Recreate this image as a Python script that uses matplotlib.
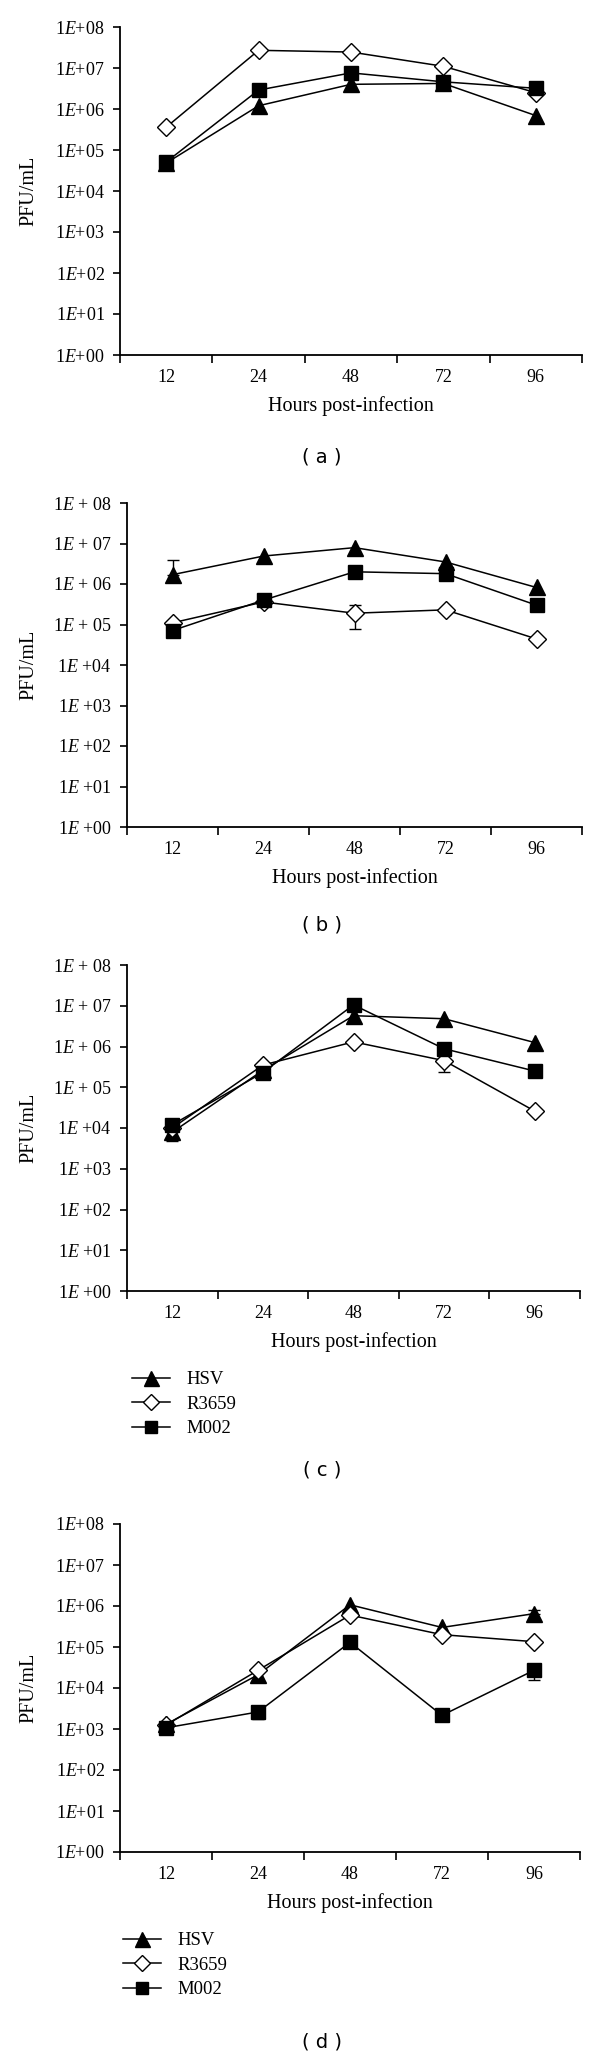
import numpy as np
import matplotlib
matplotlib.use("Agg")
import matplotlib.pyplot as plt

plt.rcParams['font.family'] = ['Liberation Serif', 'DejaVu Serif']
plt.rcParams['mathtext.fontset'] = 'custom'
plt.rcParams['mathtext.rm'] = 'Liberation Serif'
plt.rcParams['mathtext.it'] = 'Liberation Serif:italic'

# ---------------- data ----------------
hours = ['12', '24', '48', '72', '96']
series_names = ['HSV', 'R3659', 'M002']

a_hsv = [4.8e4, 1.2e6, 4.0e6, 4.2e6, 6.9e5]
a_r3659 = [3.6e5, 2.7e7, 2.45e7, 1.1e7, 2.5e6]
a_m002 = [5.1e4, 2.9e6, 7.6e6, 4.6e6, 3.2e6]

b_hsv = [1.7e6, 4.9e6, 7.9e6, 3.5e6, 8.2e5]
b_r3659 = [1.1e5, 3.6e5, 1.9e5, 2.3e5, 4.4e4]
b_m002 = [7.1e4, 4.0e5, 2.0e6, 1.8e6, 3.0e5]

c_hsv = [7.9e3, 2.6e5, 5.7e6, 4.8e6, 1.25e6]
c_r3659 = [1.0e4, 3.5e5, 1.3e6, 4.5e5, 2.6e4]
c_m002 = [1.2e4, 2.3e5, 1.05e7, 8.8e5, 2.5e5]

d_hsv = [1.3e3, 2.1e4, 1.07e6, 3.0e5, 6.5e5]
d_r3659 = [1.25e3, 2.7e4, 6.0e5, 2.0e5, 1.35e5]
d_m002 = [1.07e3, 2.6e3, 1.3e5, 2.15e3, 2.7e4]

# error bars: (series, time index, lower bound, upper bound)
a_err = []
b_err = [('HSV', 0, 1.7e6, 3.9e6), ('R3659', 2, 7.8e4, 2.95e5)]
c_err = [('HSV', 0, 4.7e3, 7.9e3), ('R3659', 3, 2.35e5, 4.5e5)]
d_err = [('M002', 1, 1.75e3, 2.6e3), ('M002', 4, 1.6e4, 3.3e4), ('HSV', 4, 6.5e5, 7.8e5)]

panel_letters = ['a', 'b', 'c', 'd']

# ---------------- layout ----------------
W, H = 600, 2056
fig = plt.figure(figsize=(W / 100, H / 100), dpi=100)

def rect(left, right, top, bottom):
    return [left / W, 1 - bottom / H, (right - left) / W, (bottom - top) / H]

panels = [
    dict(data=(a_hsv, a_r3659, a_m002), err=a_err, box=(120, 582, 27, 355), style='tight',
         cap=457, legend=None),
    dict(data=(b_hsv, b_r3659, b_m002), err=b_err, box=(127, 582, 503, 827), style='spaced',
         cap=925, legend=None),
    dict(data=(c_hsv, c_r3659, c_m002), err=c_err, box=(127, 580, 965, 1291), style='spaced',
         cap=1470, legend=(132, 1371)),
    dict(data=(d_hsv, d_r3659, d_m002), err=d_err, box=(120, 580, 1524, 1852), style='tight',
         cap=2042, legend=(123, 1932)),
]

markers = {'HSV': dict(marker='^', mfc='black', ms=12),
           'R3659': dict(marker='D', mfc='white', ms=9.5),
           'M002': dict(marker='s', mfc='black', ms=10)}

def ylabels(style):
    labs = []
    for k in range(9):
        if style == 'tight':
            labs.append(r'1$\it{E}$+0%d' % k)
        else:
            if k >= 5:
                labs.append(r'1$\it{E}$ + 0%d' % k)
            else:
                labs.append(r'1$\it{E}$ +0%d' % k)
    return labs

for letter, p in zip(panel_letters, panels):
    left, right, top, bottom = p['box']
    ax = fig.add_axes(rect(left, right, top, bottom))
    x = np.arange(len(hours))
    handles = []
    for name, vals in zip(series_names, p['data']):
        for (sname, idx, lo, hi) in p['err']:
            if sname == name:
                v = vals[idx]
                ax.errorbar([x[idx]], [v], yerr=[[v - lo], [hi - v]], fmt='none',
                            ecolor='black', elinewidth=1.0, capsize=4, capthick=1.0, zorder=2)
        ln, = ax.plot(x, vals, color='black', lw=1.1, mec='black', mew=1.0,
                      zorder=3, label=name, **markers[name])
        handles.append(ln)
    ax.set_yscale('log')
    ax.set_ylim(1, 1e8)
    ax.set_xlim(-0.5, len(hours) - 0.5)
    ax.set_yticks([10.0 ** k for k in range(9)])
    ax.set_yticklabels(ylabels(p['style']), fontsize=13)
    ax.yaxis.set_minor_locator(matplotlib.ticker.NullLocator())
    ax.set_xticks(np.arange(len(hours) + 1) - 0.5)
    ax.set_xticklabels([])
    ax.set_xticks(x, minor=True)
    ax.set_xticklabels(hours, minor=True, fontsize=13)
    ax.tick_params(axis='x', which='minor', length=0, pad=10)
    ax.tick_params(axis='x', which='major', length=6, width=1.2, direction='out')
    ax.tick_params(axis='y', which='major', length=5, width=1.2, direction='out', pad=6)
    for s in ['top', 'right']:
        ax.spines[s].set_visible(False)
    for s in ['left', 'bottom']:
        ax.spines[s].set_linewidth(1.3)
    ax.set_ylabel('PFU/mL', fontsize=14.5)
    ax.yaxis.set_label_coords((38 - left) / (right - left), 0.5)
    ax.set_xlabel('Hours post-infection', fontsize=14.5)
    ax.xaxis.set_label_coords(0.5, -41 / (bottom - top))
    fig.text(322 / W, 1 - p['cap'] / H, '( %s )' % letter, family='DejaVu Sans',
             fontsize=14, ha='center', va='center')
    if p['legend'] is not None:
        lx, ly = p['legend']
        ax.legend(handles=handles, loc='upper left', bbox_to_anchor=(lx / W, 1 - ly / H),
                  bbox_transform=fig.transFigure, frameon=False, borderpad=0,
                  borderaxespad=0, fontsize=13.5, handlelength=2.0, handletextpad=0.9,
                  labelspacing=0.4, markerscale=0.9)

fig.savefig('out.png', dpi=100)
